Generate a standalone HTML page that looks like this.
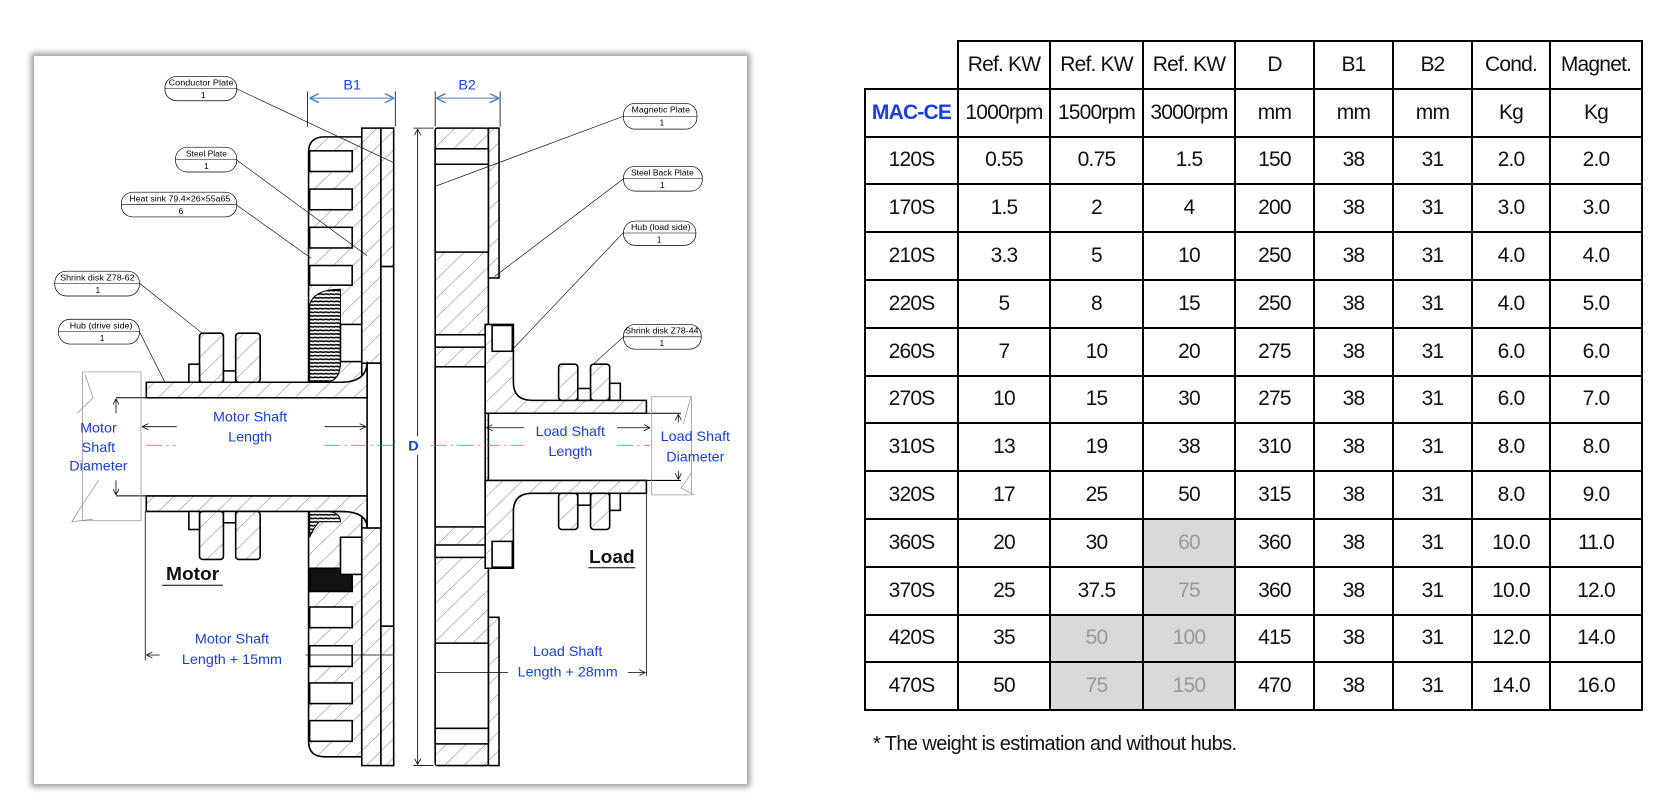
<!DOCTYPE html>
<html><head><meta charset="utf-8"><style>
html,body{margin:0;padding:0;background:#fff;}
body{width:1662px;height:810px;position:relative;overflow:hidden;font-family:"Liberation Sans",sans-serif;}
#card{position:absolute;left:34px;top:56px;width:713px;height:728px;background:#fff;box-shadow:0 0 6px 3px #9a9a9a;}
svg.d{position:absolute;left:0;top:0;}
table{position:absolute;left:864px;top:40px;width:777px;table-layout:fixed;border-collapse:collapse;font-family:"Liberation Sans",sans-serif;font-size:21px;color:#111;}
tr{height:47.8px;}
td{border:2.5px solid #000;text-align:center;padding:0;letter-spacing:-0.8px;}
td.e{border:none;}
td.g{background:#d9d9d9;color:#999;}
#note{position:absolute;left:873px;top:733px;font-size:20px;color:#111;letter-spacing:-0.6px;}
</style></head><body>
<div id="card"></div>
<svg class="d" width="831" height="810" viewBox="0 0 1562 1568" preserveAspectRatio="none">
<defs>
<pattern id="h" width="26" height="26" patternUnits="userSpaceOnUse" patternTransform="rotate(45)">
<rect width="26" height="26" fill="#fff"/><line x1="0" y1="0" x2="0" y2="26" stroke="#333" stroke-width="1.2"/></pattern>
<pattern id="t" width="10" height="7" patternUnits="userSpaceOnUse">
<rect width="10" height="7" fill="#fff"/><line x1="0" y1="2" x2="10" y2="3" stroke="#000" stroke-width="3"/></pattern>
<marker id="a" viewBox="0 0 10 10" refX="10" refY="5" markerWidth="8" markerHeight="8" orient="auto-start-reverse"><path d="M0,0 L10,5 L0,10" fill="none" stroke="#000" stroke-width="1.2"/></marker>
<marker id="ab" viewBox="0 0 10 10" refX="10" refY="5" markerWidth="9" markerHeight="9" orient="auto-start-reverse"><path d="M0,0 L10,5 L0,10" fill="none" stroke="#4a7ec0" stroke-width="1.5"/></marker>
</defs>
<g stroke="#000" stroke-width="3" fill="url(#h)">
<path d="M580,740 L580,295 Q580,265 610,265 L680,265 L680,740 Z"/>
<path d="M580,990 L580,1435 Q580,1465 610,1465 L680,1465 L680,990 Z"/>
<g fill="#fff">
<rect x="582" y="292" width="80" height="40"/><rect x="582" y="366" width="80" height="40"/><rect x="582" y="440" width="80" height="40"/><rect x="582" y="514" width="80" height="38"/>
<rect x="582" y="1175" width="80" height="40"/><rect x="582" y="1250" width="80" height="40"/><rect x="582" y="1322" width="80" height="40"/><rect x="582" y="1395" width="80" height="40"/>
</g>
<path d="M582,740 L582,590 Q590,560 640,560 L640,700 Q640,740 610,740 Z" fill="url(#t)" stroke-width="2"/>
<path d="M582,990 L582,1040 Q590,1020 600,1010 L640,1010 Q640,990 610,990 Z" fill="url(#t)" stroke-width="2"/>
<rect x="582" y="1100" width="80" height="45" fill="#111"/>
<rect x="640" y="628" width="40" height="72" fill="#fff"/>
<rect x="640" y="1040" width="40" height="72" fill="#fff"/>
<rect x="680" y="248" width="36" height="455"/>
<rect x="680" y="1022" width="36" height="460"/>
<rect x="716" y="248" width="24" height="268"/>
<rect x="716" y="1212" width="24" height="270"/>
<rect x="716" y="516" width="24" height="696" fill="#fff"/>
<rect x="690" y="703" width="26" height="319" fill="#fff"/>
<path d="M275,740 L640,740 Q690,740 690,700 L690,770 L275,770 Z"/>
<path d="M275,960 L690,960 L690,1022 Q690,990 640,990 L275,990 Z"/>
<rect x="375" y="645" width="45" height="95" rx="6"/><rect x="443" y="645" width="46" height="95" rx="6"/>
<rect x="420" y="718" width="23" height="22" fill="#fff"/><rect x="355" y="705" width="20" height="35" fill="#fff"/>
<rect x="375" y="990" width="45" height="93" rx="6"/><rect x="443" y="990" width="46" height="93" rx="6"/>
<rect x="420" y="990" width="23" height="22" fill="#fff"/><rect x="355" y="990" width="20" height="35" fill="#fff"/>
<rect x="818" y="248" width="100" height="1234" rx="4"/>
<rect x="918" y="248" width="20" height="290"/>
<rect x="918" y="1195" width="20" height="287"/>
<g fill="#fff">
<rect x="818" y="288" width="100" height="30"/><rect x="818" y="318" width="100" height="170"/>
<rect x="818" y="648" width="100" height="24"/><rect x="818" y="1055" width="100" height="24"/>
<rect x="818" y="1245" width="100" height="165"/><rect x="818" y="1410" width="100" height="30"/>
<rect x="818" y="710" width="94" height="310"/>
</g>
<path d="M918,628 L965,628 L965,740 Q965,775 1000,775 L1215,775 L1215,800 L912,800 L912,628 Z"/>
<path d="M912,930 L1215,930 L1215,955 L1000,955 Q965,955 965,990 L965,1100 L918,1100 L912,1100 Z"/>
<rect x="925" y="630" width="38" height="50" fill="#fff"/><rect x="925" y="1048" width="38" height="50" fill="#fff"/>
<rect x="1050" y="705" width="36" height="70" rx="6"/><rect x="1110" y="705" width="36" height="70" rx="6"/>
<rect x="1086" y="752" width="24" height="23" fill="#fff"/><rect x="1146" y="742" width="20" height="33" fill="#fff"/>
<rect x="1050" y="955" width="36" height="70" rx="6"/><rect x="1110" y="955" width="36" height="70" rx="6"/>
<rect x="1086" y="955" width="24" height="23" fill="#fff"/><rect x="1146" y="955" width="20" height="33" fill="#fff"/>
</g>
<g stroke="#000" stroke-width="2" fill="none">
<line x1="218" y1="770" x2="690" y2="770"/><line x1="218" y1="960" x2="690" y2="960"/>
<line x1="912" y1="800" x2="1280" y2="800"/><line x1="912" y1="930" x2="1280" y2="930"/>
</g>
<g stroke="#999" stroke-width="1.5" fill="none">
<rect x="155" y="720" width="110" height="288"/>
<path d="M160,725 L175,770 L145,800 M185,930 L150,985 L135,1010 L175,1005"/>
<rect x="1225" y="768" width="75" height="190"/>
<path d="M1298,770 L1285,820 M1300,915 L1280,945 L1305,958"/>
</g>
<g stroke="#e05050" stroke-width="1.5" stroke-dasharray="30,8,4,8">
<line x1="275" y1="862" x2="330" y2="862"/><line x1="610" y1="862" x2="745" y2="862"/><line x1="810" y1="862" x2="985" y2="862"/><line x1="1160" y1="862" x2="1222" y2="862"/>
</g>
<g stroke="#000" stroke-width="1.5" fill="none">
<line x1="578" y1="177" x2="578" y2="245"/><line x1="743" y1="177" x2="743" y2="245"/>
<line x1="818" y1="177" x2="818" y2="245"/><line x1="940" y1="177" x2="940" y2="245"/>
<line x1="785" y1="250" x2="785" y2="845" marker-start="url(#a)"/><line x1="785" y1="880" x2="785" y2="1480" marker-end="url(#a)"/>
<line x1="777" y1="248" x2="815" y2="248"/><line x1="777" y1="1482" x2="815" y2="1482"/>
<line x1="218" y1="772" x2="218" y2="800" marker-start="url(#a)"/><line x1="218" y1="930" x2="218" y2="958" marker-end="url(#a)"/>
<line x1="267" y1="826" x2="332" y2="826" marker-start="url(#a)"/><line x1="610" y1="826" x2="688" y2="826" marker-end="url(#a)"/>
<line x1="914" y1="828" x2="985" y2="828" marker-start="url(#a)"/><line x1="1160" y1="828" x2="1222" y2="828" marker-end="url(#a)"/>
<line x1="1275" y1="802" x2="1275" y2="818" marker-start="url(#a)"/><line x1="1275" y1="912" x2="1275" y2="928" marker-end="url(#a)"/>
<line x1="273" y1="990" x2="273" y2="1278"/>
<line x1="275" y1="1268" x2="300" y2="1268" marker-start="url(#a)"/><line x1="575" y1="1268" x2="740" y2="1268"/>
<line x1="1215" y1="955" x2="1215" y2="1308"/>
<line x1="820" y1="1302" x2="955" y2="1302"/><line x1="1180" y1="1302" x2="1213" y2="1302" marker-end="url(#a)"/>
</g>
<g stroke="#4a7ec0" stroke-width="2" fill="none">
<line x1="582" y1="190" x2="741" y2="190" marker-start="url(#ab)" marker-end="url(#ab)"/>
<line x1="820" y1="190" x2="938" y2="190" marker-start="url(#ab)" marker-end="url(#ab)"/>
</g>
<g stroke="#000" stroke-width="1.2" fill="none">
<line x1="445" y1="172" x2="740" y2="315"/><line x1="445" y1="310" x2="690" y2="495"/>
<line x1="445" y1="397" x2="585" y2="500"/><line x1="262" y1="548" x2="380" y2="645"/>
<line x1="262" y1="642" x2="310" y2="740"/><line x1="1172" y1="225" x2="820" y2="360"/>
<line x1="1172" y1="346" x2="930" y2="535"/><line x1="1172" y1="450" x2="960" y2="680"/>
<line x1="1172" y1="652" x2="1115" y2="705"/>
</g>
<g stroke="#000" stroke-width="1.3" fill="#fff">
<rect x="310" y="148" width="135" height="47" rx="22"/><rect x="330" y="285" width="115" height="48" rx="22"/>
<rect x="228" y="372" width="217" height="48" rx="22"/><rect x="103" y="525" width="159" height="48" rx="22"/>
<rect x="110" y="618" width="152" height="48" rx="22"/><rect x="1172" y="200" width="138" height="50" rx="22"/>
<rect x="1172" y="322" width="148" height="48" rx="22"/><rect x="1172" y="428" width="136" height="47" rx="22"/>
<rect x="1172" y="628" width="146" height="48" rx="22"/>
</g>
<g stroke="#000" stroke-width="1">
<line x1="310" y1="171" x2="445" y2="171"/><line x1="330" y1="309" x2="445" y2="309"/><line x1="228" y1="396" x2="445" y2="396"/>
<line x1="103" y1="549" x2="262" y2="549"/><line x1="110" y1="642" x2="262" y2="642"/><line x1="1172" y1="225" x2="1310" y2="225"/>
<line x1="1172" y1="346" x2="1320" y2="346"/><line x1="1172" y1="451" x2="1308" y2="451"/><line x1="1172" y1="652" x2="1318" y2="652"/>
</g>
<g font-family="Liberation Sans, sans-serif" font-size="16" fill="#000" text-anchor="middle">
<text x="378" y="166" textLength="122" lengthAdjust="spacingAndGlyphs">Conductor Plate</text><text x="382" y="190">1</text>
<text x="388" y="303">Steel Plate</text><text x="388" y="327">1</text>
<text x="338" y="390" textLength="190" lengthAdjust="spacingAndGlyphs">Heat sink 79.4×26×55a65</text><text x="340" y="414">6</text>
<text x="183" y="543" textLength="140" lengthAdjust="spacingAndGlyphs">Shrink disk Z78-62</text><text x="184" y="567">1</text>
<text x="190" y="636" textLength="118" lengthAdjust="spacingAndGlyphs">Hub (drive side)</text><text x="192" y="660">1</text>
<text x="1242" y="218" textLength="110" lengthAdjust="spacingAndGlyphs">Magnetic Plate</text><text x="1244" y="243">1</text>
<text x="1245" y="340" textLength="118" lengthAdjust="spacingAndGlyphs">Steel Back Plate</text><text x="1245" y="364">1</text>
<text x="1242" y="445" textLength="112" lengthAdjust="spacingAndGlyphs">Hub (load side)</text><text x="1239" y="469">1</text>
<text x="1244" y="646" textLength="138" lengthAdjust="spacingAndGlyphs">Shrink disk Z78-44</text><text x="1244" y="670">1</text>
</g>
<g font-family="Liberation Sans, sans-serif" font-size="27" fill="#1a3fe0" text-anchor="middle">
<text x="662" y="173">B1</text><text x="878" y="173">B2</text>
<text x="777" y="872" font-weight="bold">D</text>
<text x="470" y="816">Motor Shaft</text><text x="470" y="855">Length</text>
<text x="185" y="837">Motor</text><text x="185" y="875">Shaft</text><text x="185" y="911">Diameter</text>
<text x="1072" y="844">Load Shaft</text><text x="1072" y="883">Length</text>
<text x="1307" y="854">Load Shaft</text><text x="1307" y="893">Diameter</text>
<text x="436" y="1246">Motor Shaft</text><text x="436" y="1285">Length + 15mm</text>
<text x="1067" y="1270">Load Shaft</text><text x="1067" y="1310">Length + 28mm</text>
</g>
<g font-family="Liberation Sans, sans-serif" font-size="36" font-weight="bold" fill="#111" text-anchor="middle">
<text x="362" y="1123">Motor</text><text x="1150" y="1090">Load</text>
</g>
<line x1="305" y1="1133" x2="419" y2="1133" stroke="#000" stroke-width="2"/>
<line x1="1106" y1="1099" x2="1194" y2="1099" stroke="#000" stroke-width="2"/>
</svg>
<table>
<colgroup><col style="width:93px"><col style="width:92px"><col style="width:93px"><col style="width:92px"><col style="width:79px"><col style="width:79px"><col style="width:79px"><col style="width:78px"><col style="width:92px"></colgroup>
<tr><td class="e"></td><td>Ref. KW</td><td>Ref. KW</td><td>Ref. KW</td><td>D</td><td>B1</td><td>B2</td><td>Cond.</td><td>Magnet.</td></tr>
<tr><td style="color:#1a3fe0;font-weight:bold">MAC-CE</td><td>1000rpm</td><td>1500rpm</td><td>3000rpm</td><td>mm</td><td>mm</td><td>mm</td><td>Kg</td><td>Kg</td></tr>
<tr><td>120S</td><td>0.55</td><td>0.75</td><td>1.5</td><td>150</td><td>38</td><td>31</td><td>2.0</td><td>2.0</td></tr>
<tr><td>170S</td><td>1.5</td><td>2</td><td>4</td><td>200</td><td>38</td><td>31</td><td>3.0</td><td>3.0</td></tr>
<tr><td>210S</td><td>3.3</td><td>5</td><td>10</td><td>250</td><td>38</td><td>31</td><td>4.0</td><td>4.0</td></tr>
<tr><td>220S</td><td>5</td><td>8</td><td>15</td><td>250</td><td>38</td><td>31</td><td>4.0</td><td>5.0</td></tr>
<tr><td>260S</td><td>7</td><td>10</td><td>20</td><td>275</td><td>38</td><td>31</td><td>6.0</td><td>6.0</td></tr>
<tr><td>270S</td><td>10</td><td>15</td><td>30</td><td>275</td><td>38</td><td>31</td><td>6.0</td><td>7.0</td></tr>
<tr><td>310S</td><td>13</td><td>19</td><td>38</td><td>310</td><td>38</td><td>31</td><td>8.0</td><td>8.0</td></tr>
<tr><td>320S</td><td>17</td><td>25</td><td>50</td><td>315</td><td>38</td><td>31</td><td>8.0</td><td>9.0</td></tr>
<tr><td>360S</td><td>20</td><td>30</td><td class="g">60</td><td>360</td><td>38</td><td>31</td><td>10.0</td><td>11.0</td></tr>
<tr><td>370S</td><td>25</td><td>37.5</td><td class="g">75</td><td>360</td><td>38</td><td>31</td><td>10.0</td><td>12.0</td></tr>
<tr><td>420S</td><td>35</td><td class="g">50</td><td class="g">100</td><td>415</td><td>38</td><td>31</td><td>12.0</td><td>14.0</td></tr>
<tr><td>470S</td><td>50</td><td class="g">75</td><td class="g">150</td><td>470</td><td>38</td><td>31</td><td>14.0</td><td>16.0</td></tr>
</table>
<div id="note">* The weight is estimation and without hubs.</div>
</body></html>
